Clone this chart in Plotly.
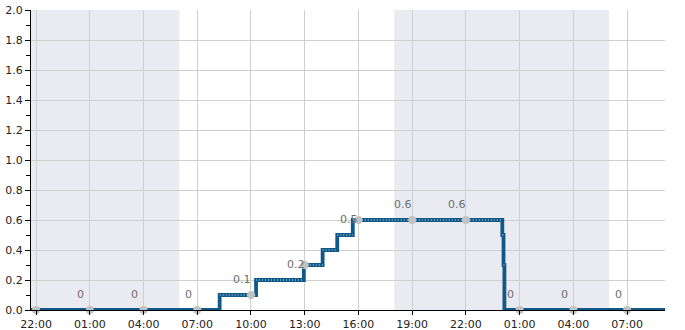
import plotly.graph_objects as go

# Step series (time of change, value from then on)
step_times = [
    "2024-01-01 21:43", "2024-01-02 08:15", "2024-01-02 10:17", "2024-01-02 12:57",
    "2024-01-02 14:00", "2024-01-02 14:49", "2024-01-02 15:41", "2024-01-03 00:02",
    "2024-01-03 00:06", "2024-01-03 00:09", "2024-01-03 09:07",
]
step_values = [0.0, 0.1, 0.2, 0.3, 0.4, 0.5, 0.6, 0.5, 0.3, 0.0, 0.0]

# Sample points every 3 hours (markers) with their labels
point_times = [
    "2024-01-01 22:00", "2024-01-02 01:00", "2024-01-02 04:00", "2024-01-02 07:00",
    "2024-01-02 10:00", "2024-01-02 13:00", "2024-01-02 16:00", "2024-01-02 19:00",
    "2024-01-02 22:00", "2024-01-03 01:00", "2024-01-03 04:00", "2024-01-03 07:00",
]
point_values = [0.0, 0.0, 0.0, 0.0, 0.1, 0.3, 0.6, 0.6, 0.6, 0.0, 0.0, 0.0]
point_labels = ["", "0", "0", "0", "0.1", "0.2", "0.5", "0.6", "0.6", "0", "0", "0"]
label_values = [0.0, 0.0, 0.0, 0.0, 0.1, 0.2, 0.5, 0.6, 0.6, 0.0, 0.0, 0.0]

# Night shading periods
night_starts = ["2024-01-01 21:43", "2024-01-02 18:00"]
night_ends = ["2024-01-02 06:00", "2024-01-03 06:00"]

x_range = ["2024-01-01 21:43", "2024-01-03 09:07"]
y_ticks = [0.0, 0.2, 0.4, 0.6, 0.8, 1.0, 1.2, 1.4, 1.6, 1.8, 2.0]

fig = go.Figure()

fig.add_trace(go.Scatter(
    x=step_times, y=step_values, mode="lines", line_shape="hv",
    line=dict(color="#0f5889", width=3.8), hoverinfo="skip", showlegend=False,
))

# dotted highlight only on the horizontal parts of the steps
dot_x, dot_y = [], []
for i in range(len(step_times) - 1):
    if step_values[i] > 0:
        dot_x += [step_times[i], step_times[i + 1], None]
        dot_y += [step_values[i], step_values[i], None]
fig.add_trace(go.Scatter(
    x=dot_x, y=dot_y, mode="lines",
    line=dict(color="rgba(235,242,248,0.95)", width=1.1, dash="1px,2px"),
    hoverinfo="skip", showlegend=False, connectgaps=False,
))
fig.add_trace(go.Scatter(
    x=point_times, y=point_values, mode="markers",
    marker=dict(color="#c2c2c2", size=8), cliponaxis=False, showlegend=False,
))

for t, lv, txt in zip(point_times, label_values, point_labels):
    if txt:
        fig.add_annotation(
            x=t, y=lv, text=txt, showarrow=False, xshift=-9, yshift=15.5,
            font=dict(family="DejaVu Sans", size=11, color="#6e6e6e"),
        )

for s, e in zip(night_starts, night_ends):
    fig.add_shape(
        type="rect", xref="x", yref="paper", x0=s, x1=e, y0=0, y1=1,
        fillcolor="#eaebf0", line=dict(width=0), layer="below",
    )

fig.update_layout(
    width=685, height=330,
    margin=dict(l=31, r=20, t=10, b=20, autoexpand=False),
    paper_bgcolor="white", plot_bgcolor="white",
    font=dict(family="DejaVu Sans", size=11, color="#222222"),
    showlegend=False,
)
fig.update_xaxes(
    type="date", range=x_range, automargin=False,
    tick0="2024-01-01 22:00", dtick=3 * 3600 * 1000, tickformat="%H:%M",
    showgrid=True, gridcolor="#cfcfcf", gridwidth=1,
    showline=True, linecolor="black", linewidth=1.2,
    ticks="outside", ticklen=4, tickcolor="black", tickfont=dict(size=11),
    zeroline=False,
)
fig.update_yaxes(
    range=[0, 2.0], tickvals=y_ticks, tickformat=".1f", automargin=False,
    showgrid=True, gridcolor="#cfcfcf", gridwidth=1,
    showline=True, linecolor="black", linewidth=1.2,
    ticks="outside", ticklen=5, tickcolor="black", tickfont=dict(size=11),
    minor=dict(dtick=0.1, tick0=0, ticks="outside", ticklen=4, tickcolor="black", showgrid=False),
    zeroline=False,
)

fig.write_html("out.html")
